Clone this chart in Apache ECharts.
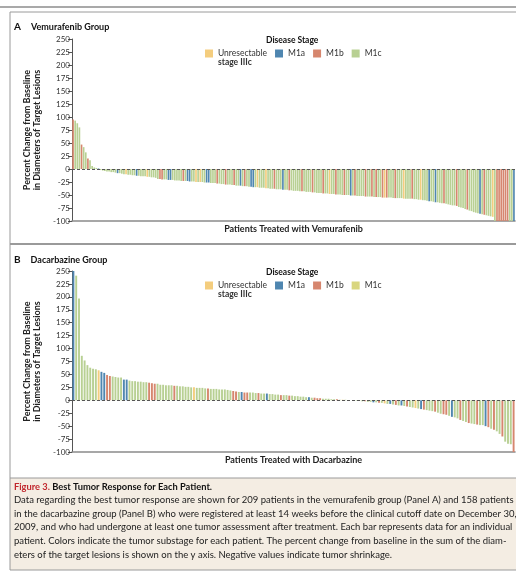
<!DOCTYPE html>
<html><head><meta charset="utf-8">
<script src="https://cdn.jsdelivr.net/npm/echarts@6/dist/echarts.min.js"></script>
<style>html,body{margin:0;padding:0;background:#fff}#c{width:516px;height:573px}</style>
</head><body><div id="c"></div>
<script>
// ---------- data ----------
const stageNames = ['Unresectable stage IIIc', 'M1a', 'M1b', 'M1c'];
const stageKeys = ['U', 'a', 'b', 'c'];
const stageColors = ['#f4cd7e', '#4f86b0', '#d6866e', '#b8d093'];

// Panel A: vemurafenib, 209 patients (percent change, sorted)
const valuesA = [
  95, 93, 88, 80, 47, 42, 32, 20, 17, 6,
  3, 2, 1, -2, -3, -4, -5, -5, -6, -6,
  -7, -8, -8, -9, -10, -10, -11, -11, -12, -12,
  -13, -13, -14, -14, -14, -15, -15, -16, -16, -17,
  -19, -19, -20, -20, -20, -21, -21, -21, -22, -22,
  -22, -23, -23, -23, -23, -24, -24, -24, -25, -25,
  -25, -25, -26, -26, -26, -27, -27, -27, -28, -28,
  -29, -29, -30, -30, -30, -31, -31, -32, -32, -32,
  -33, -33, -33, -34, -34, -35, -35, -35, -36, -36,
  -36, -37, -37, -38, -38, -38, -39, -39, -39, -40,
  -40, -40, -41, -41, -42, -42, -42, -43, -43, -43,
  -44, -44, -44, -45, -45, -46, -46, -46, -47, -47,
  -47, -48, -48, -48, -49, -49, -49, -50, -50, -50,
  -50, -51, -51, -51, -52, -52, -52, -52, -53, -53,
  -53, -53, -54, -54, -54, -54, -55, -55, -55, -55,
  -55, -56, -56, -56, -56, -56, -57, -57, -57, -57,
  -57, -58, -58, -59, -59, -60, -60, -61, -62, -62,
  -63, -64, -64, -65, -66, -66, -67, -68, -69, -70,
  -70, -71, -73, -74, -75, -77, -78, -80, -81, -83,
  -84, -85, -86, -87, -88, -89, -90, -91, -92, -100,
  -100, -100, -100, -100, -100, -100, -100, -100, -100
];
const stagesA = (
  'bcccbccbcc' + 'ccaccccccc' + 'cacccUcccc' + 'accccUcccc' + 'cbbccaaccc' +
  'ccbcaaccUc' + 'Uccaacccbc' + 'ccbcccbcca' + 'cbccaacUcc' + 'cUcccbccca' +
  'ccbcccccbc' + 'cccbccccbc' + 'cUccbcccbc' + 'cacbccccbc' + 'cbcbccbUbc' +
  'ccbcccUccc' + 'bcccUcccac' + 'cacccbcccc' + 'cbccccbccc' + 'ccacbcccUc' +
  'bbbbbbcca'
).split('');

// Panel B: dacarbazine, 158 patients
const valuesB = [
  250, 241, 197, 86, 77, 68, 63, 61, 60, 58,
  55, 53, 49, 47, 46, 45, 44, 44, 40, 40,
  38, 37, 37, 36, 36, 35, 35, 34, 33, 32,
  32, 30, 30, 29, 29, 29, 28, 28, 27, 27,
  26, 26, 25, 25, 24, 24, 24, 23, 23, 22,
  22, 22, 21, 21, 21, 20, 19, 18, 17, 16,
  16, 15, 15, 15, 15, 14, 14, 13, 13, 13,
  12, 12, 11, 11, 10, 10, 10, 9, 9, 8,
  8, 7, 7, 6, 6, 5, 5, 4, 4, 3,
  3, 3, 2, 2, 2, 1, 1, 1, 0, 0,
  0, -1, -1, -2, -2, -3, -3, -4, -4, -5,
  -5, -6, -7, -7, -8, -9, -10, -10, -11, -12,
  -13, -14, -15, -16, -17, -18, -19, -20, -21, -22,
  -24, -26, -27, -28, -30, -32, -33, -35, -38, -40,
  -42, -44, -45, -46, -47, -48, -48, -50, -52, -55,
  -57, -60, -65, -70, -80, -84, -85, -100
];
const stagesB = (
  'accccccccU' + 'aabbccccaa' + 'cccccccbbb' + 'ccccccbccc' + 'cccUccccbc' +
  'cccccccbbc' + 'abbcccbcca' + 'ccccbccbcc' + 'ccccacbbbc' + 'ccccbcUccc' +
  'acccbccacb' + 'cUcacbcacb' + 'ccUcabcccb' + 'ccbbcaccbc' + 'cbccbccabc' +
  'bccbcccb'
).split('');

const yMin = -100, yMax = 250, yStep = 25;

const captionTitleRed = 'Figure 3.';
const captionTitle = ' Best Tumor Response for Each Patient.';
const captionLines = [
  'Data regarding the best tumor response are shown for 209 patients in the vemurafenib group (Panel A) and 158 patients',
  'in the dacarbazine group (Panel B) who were registered at least 14 weeks before the clinical cutoff date on December 30,',
  '2009, and who had undergone at least one tumor assessment after treatment. Each bar represents data for an individual',
  'patient. Colors indicate the tumor substage for each patient. The percent change from baseline in the sum of the diam-',
  'eters of the target lesions is shown on the y axis. Negative values indicate tumor shrinkage.'
];

// ---------- chart ----------
const FONT = 'Lato, "Liberation Sans", sans-serif';
const chart = echarts.init(document.getElementById('c'), null, {renderer: 'canvas'});

const grids = [
  {left: 72, top: 39, width: 443, height: 182},
  {left: 72, top: 271, width: 443, height: 181}
];
const xNames = ['Patients Treated with Vemurafenib', 'Patients Treated with Dacarbazine'];
const yName = 'Percent Change from Baseline\nin Diameters of Target Lesions';

function xAxisFor(i, n) {
  return {
    type: 'category', gridIndex: i, data: Array.from({length: n}, (_, k) => k + 1),
    axisLine: {onZero: false, lineStyle: {color: '#8a8a8a', width: 1.6}},
    axisTick: {show: false}, axisLabel: {show: false},
    name: xNames[i], nameLocation: 'middle', nameGap: 4,
    nameTextStyle: {fontFamily: FONT, fontWeight: 'bold', fontSize: 9, color: '#222'}
  };
}
function yAxisFor(i) {
  return {
    type: 'value', gridIndex: i, min: yMin, max: yMax, interval: yStep,
    axisLine: {show: true, lineStyle: {color: '#555', width: 1}},
    axisTick: {show: true, length: 4, lineStyle: {color: '#555'}},
    axisLabel: {fontFamily: FONT, fontSize: 8, color: '#333', margin: 2},
    splitLine: {show: false},
    name: yName, nameLocation: 'middle', nameRotate: 90, nameGap: 23,
    nameTextStyle: {fontFamily: FONT, fontWeight: 'bold', fontSize: 9, color: '#222', lineHeight: 10}
  };
}

const panels = [
  {values: valuesA, stages: stagesA, gap: '22%'},
  {values: valuesB, stages: stagesB, gap: '32%'}
];
const series = [];
panels.forEach((p, pi) => {
  stageKeys.forEach((key, k) => {
    const s = {
      name: stageNames[k], type: 'bar', stack: 'p' + pi,
      xAxisIndex: pi, yAxisIndex: pi,
      barCategoryGap: p.gap,
      itemStyle: {color: stageColors[k]},
      data: p.values.map((v, i) => p.stages[i] === key ? v : '-')
    };
    if (k === 3) {
      s.markLine = {
        silent: true, symbol: 'none', animation: false,
        label: {show: false},
        lineStyle: {type: [3, 2], color: '#555', width: 1.2},
        data: [{yAxis: 0}]
      };
    }
    series.push(s);
  });
});

function legendFor(top, m1cColor) {
  return {
    left: 205, top: top, padding: 0, itemWidth: 8, itemHeight: 8, itemGap: 8,
    icon: 'rect', selectedMode: false,
    textStyle: {fontFamily: FONT, fontSize: 8.5, color: '#333'},
    data: [
      {name: stageNames[0]},
      {name: stageNames[1]},
      {name: stageNames[2]},
      {name: stageNames[3], itemStyle: m1cColor ? {color: m1cColor} : undefined}
    ],
    formatter: n => n === stageNames[0] ? 'Unresectable' : n
  };
}
const subText = {fontFamily: FONT, fontSize: 8.5, color: '#333'};

const option = {
  animation: false,
  backgroundColor: '#fff',
  grid: grids,
  xAxis: [xAxisFor(0, valuesA.length), xAxisFor(1, valuesB.length)],
  yAxis: [yAxisFor(0), yAxisFor(1)],
  legend: [legendFor(49, null), legendFor(281, '#d9d67f')],
  title: [
    {text: '{l|A}  {t|Vemurafenib Group}', left: 14, top: 18, padding: 0,
     textStyle: {rich: {l: {fontFamily: FONT, fontWeight: 'bold', fontSize: 10, color: '#111'},
                        t: {fontFamily: FONT, fontWeight: 'bold', fontSize: 9, color: '#111'}}}},
    {text: '{l|B}  {t|Dacarbazine Group}', left: 14, top: 251, padding: 0,
     textStyle: {rich: {l: {fontFamily: FONT, fontWeight: 'bold', fontSize: 10, color: '#111'},
                        t: {fontFamily: FONT, fontWeight: 'bold', fontSize: 9, color: '#111'}}}},
    {text: 'Disease Stage', left: 266, top: 36, padding: 0,
     textStyle: {fontFamily: FONT, fontWeight: 'bold', fontSize: 8.5, color: '#111'}},
    {text: 'Disease Stage', left: 266, top: 268, padding: 0,
     textStyle: {fontFamily: FONT, fontWeight: 'bold', fontSize: 8.5, color: '#111'}},
    {text: 'stage IIIc', left: 218, top: 58, padding: 0, textStyle: subText},
    {text: 'stage IIIc', left: 218, top: 290, padding: 0, textStyle: subText}
  ],
  graphic: [
    {type: 'line', shape: {x1: 0, y1: 7, x2: 516, y2: 7}, style: {stroke: '#8c8c8c', lineWidth: 1.5}, silent: true},
    {type: 'line', shape: {x1: 10, y1: 12, x2: 516, y2: 12}, style: {stroke: '#9a9a9a', lineWidth: 1}, silent: true},
    {type: 'line', shape: {x1: 10, y1: 12, x2: 10, y2: 478}, style: {stroke: '#9a9a9a', lineWidth: 1}, silent: true},
    {type: 'line', shape: {x1: 10, y1: 244, x2: 516, y2: 244}, style: {stroke: '#9a9a9a', lineWidth: 2}, silent: true},
    {type: 'rect', shape: {x: 10, y: 478, width: 510, height: 92},
     style: {fill: '#f4ede3', stroke: '#9a9a9a', lineWidth: 1}, silent: true, z: -1},
    {type: 'text', x: 14, y: 487, silent: true,
     style: {text: '{r|' + captionTitleRed + '}{b|' + captionTitle + '}', verticalAlign: 'middle',
       rich: {r: {fontFamily: FONT, fontWeight: 'bold', fontSize: 9.3, fill: '#c1272d'},
              b: {fontFamily: FONT, fontWeight: 'bold', fontSize: 9.3, fill: '#111'}}}}
  ].concat(captionLines.map((t, i) => ({
    type: 'text', x: 14, y: 500 + i * 13.7, silent: true,
    style: {text: t, fontFamily: FONT, fontSize: 9.5, fill: '#222', verticalAlign: 'middle'}
  }))),
  series: series
};
chart.setOption(option);
</script>
</body></html>
